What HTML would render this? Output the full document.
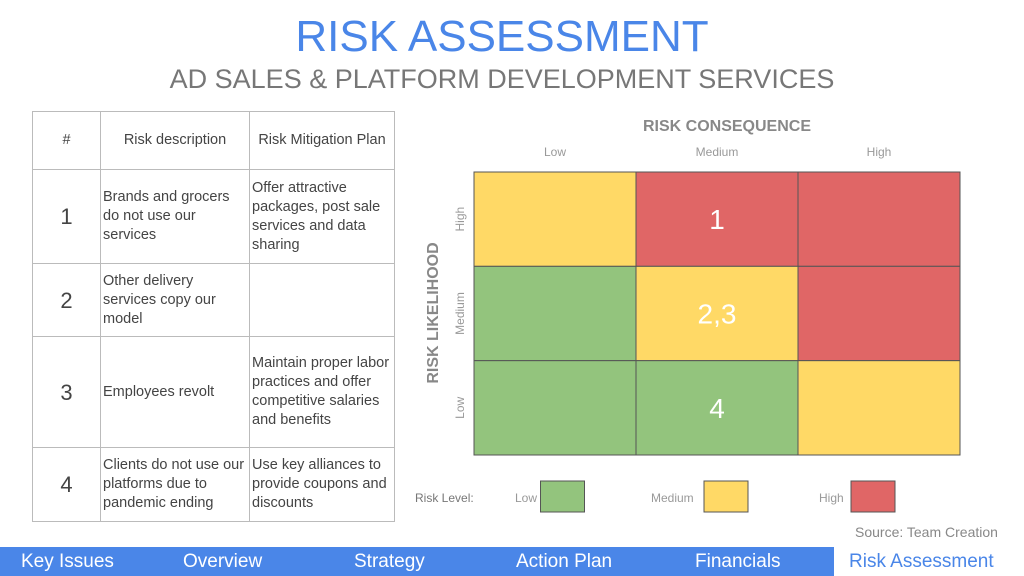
<!DOCTYPE html>
<html><head><meta charset="utf-8"><style>
body{margin:0;width:1024px;height:576px;position:relative;background:#fff;font-family:"Liberation Sans",sans-serif;overflow:hidden}
.a{position:absolute}
table{position:absolute;left:32px;top:111px;border-collapse:collapse;font-size:14.5px;color:#444}
td{border:1px solid #bbb;padding:0 2px;vertical-align:middle;line-height:19px}
.n{text-align:center;font-size:22px}
.h{text-align:center}
.nav{position:absolute;left:0;top:547px;width:1024px;height:29px;background:#4a86e8}
.nav span{position:absolute;top:4px;color:#fff;font-size:19px}
</style></head><body>
<div class="a" style="left:0;width:1004px;top:12px;text-align:center;font-size:44px;color:#4a86e8">RISK ASSESSMENT</div>
<div class="a" style="left:0;width:1004px;top:64px;text-align:center;font-size:27px;color:#777">AD SALES &amp; PLATFORM DEVELOPMENT SERVICES</div>
<table>
<tr style="height:58px"><td class="h" style="width:63px">#</td><td class="h" style="width:144px">Risk description</td><td class="h" style="width:140px">Risk Mitigation Plan</td></tr>
<tr style="height:94px"><td class="n">1</td><td>Brands and grocers do not use our services</td><td>Offer attractive packages, post sale services and data sharing</td></tr>
<tr style="height:73px"><td class="n">2</td><td>Other delivery services copy our model</td><td></td></tr>
<tr style="height:111px"><td class="n">3</td><td>Employees revolt</td><td>Maintain proper labor practices and offer competitive salaries and benefits</td></tr>
<tr style="height:74px"><td class="n">4</td><td>Clients do not use our platforms due to pandemic ending</td><td>Use key alliances to provide coupons and discounts</td></tr>
</table>
<svg class="a" style="left:0;top:0" width="1024" height="576" id="m">
<text x="727" y="131" text-anchor="middle" font-size="16" font-weight="bold" fill="#888" font-family="Liberation Sans">RISK CONSEQUENCE</text>
<text transform="translate(438,313) rotate(-90)" text-anchor="middle" font-size="16" font-weight="bold" fill="#888" font-family="Liberation Sans">RISK LIKELIHOOD</text>
<text x="415" y="502" font-size="12" fill="#777" font-family="Liberation Sans">Risk Level:</text>
</svg>
<div class="a" style="left:855px;top:524px;font-size:14px;color:#888">Source: Team Creation</div>
<div class="nav">
<span style="left:21px">Key Issues</span>
<span style="left:183px">Overview</span>
<span style="left:354px">Strategy</span>
<span style="left:516px">Action Plan</span>
<span style="left:695px">Financials</span>
<div style="position:absolute;left:834px;top:0;width:190px;height:29px;background:#fff"><span style="left:15px;color:#4a86e8">Risk Assessment</span></div>
</div>
<script>
const consequences=["Low","Medium","High"];
const likelihoods=["High","Medium","Low"];
const levels=[["Medium","High","High"],["Low","Medium","High"],["Low","Low","Medium"]];
const labels=[["","1",""],["","2,3",""],["","4",""]];
const legend=["Low","Medium","High"];
const colors={Low:"#93c47d",Medium:"#ffd966",High:"#e06666"};
const x0=474,x1=960,y0=172,y1=455;
const cw=(x1-x0)/consequences.length, ch=(y1-y0)/likelihoods.length;
const xs=i=>x0+i*cw, ys=j=>y0+j*ch;
const svg=document.getElementById('m');const NS="http://www.w3.org/2000/svg";
function mk(t,a,txt){const e=document.createElementNS(NS,t);for(const k in a)e.setAttribute(k,a[k]);if(txt!=null)e.textContent=txt;svg.appendChild(e);return e;}
consequences.forEach((c,i)=>{const t=mk('text',{x:xs(i)+cw/2,y:156,'text-anchor':'middle','font-size':12,fill:'#999','font-family':'Liberation Sans'},c);

});
likelihoods.forEach((l,j)=>{const cy=ys(j)+ch/2;const t=mk('text',{transform:`translate(464,${cy}) rotate(-90)`,'text-anchor':'middle','font-size':12,fill:'#999','font-family':'Liberation Sans'},l);

});
levels.forEach((row,j)=>row.forEach((lv,i)=>{
const r=mk('rect',{x:xs(i),y:ys(j),width:cw,height:ch,fill:colors[lv],stroke:'#555','stroke-width':1});


if(labels[j][i]){const t=mk('text',{x:xs(i)+cw/2,y:ys(j)+ch/2+10,'text-anchor':'middle','font-size':28,fill:'#fff','font-family':'Liberation Sans'},labels[j][i]);

}
}));
const lx=[515,651,819];
legend.forEach((l,k)=>{const t=mk('text',{x:lx[k],y:502,'font-size':12,fill:'#999','font-family':'Liberation Sans'},l);


const w=l.length*6.5+6;
const r=mk('rect',{x:lx[k]+w+(k==1?8:0),y:481,width:44,height:31,fill:colors[l],stroke:'#555'});

});
</script>
</body></html>
